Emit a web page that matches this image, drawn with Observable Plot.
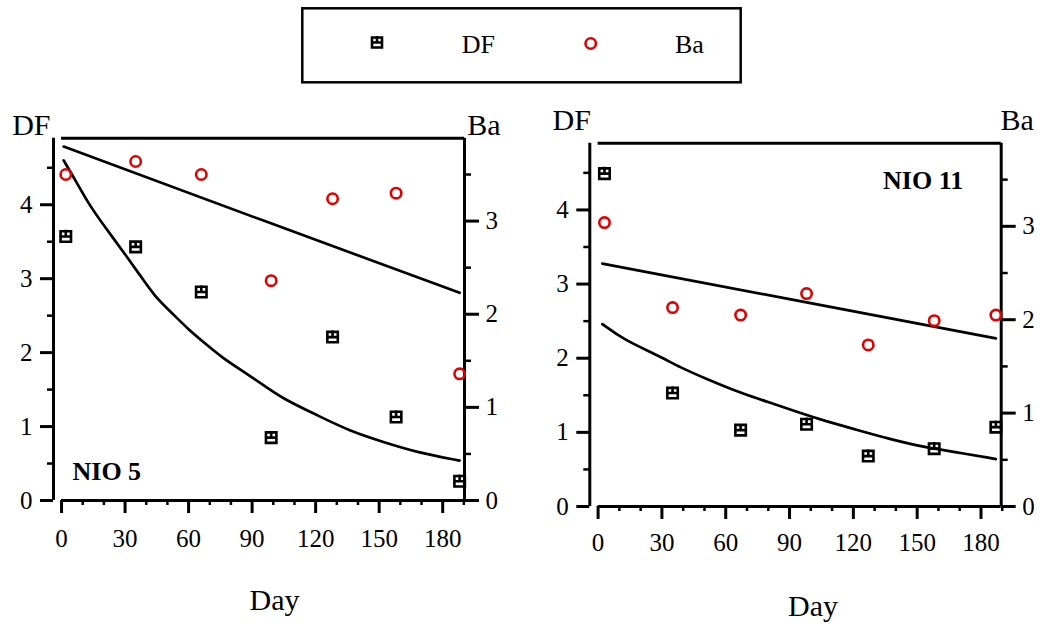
<!DOCTYPE html>
<html>
<head>
<meta charset="utf-8">
<script src="https://cdn.jsdelivr.net/npm/d3@7"></script>
<script src="https://cdn.jsdelivr.net/npm/@observablehq/plot@0.6"></script>
<style>
html, body { margin: 0; padding: 0; background: #fff; }
#wrap { position: relative; width: 1040px; height: 624px; overflow: hidden; background: #fff; }
#wrap > svg { position: absolute; top: 0; }
#wrap svg g[aria-label*="tick label"] { font-size: 25px !important; }
</style>
</head>
<body>
<div id="wrap"></div>
<script>
// ---------- data ----------
const panelNames = ["NIO 5", "NIO 11"];
const seriesNames = ["DF", "Ba"];

// NIO 5 measurements
const days5 = [2, 35, 66, 99, 128, 158, 188];
const df5   = [3.57, 3.43, 2.82, 0.85, 2.21, 1.13, 0.26];
const ba5   = [3.50, 3.64, 3.50, 2.36, 3.24, 3.30, 1.36];
// NIO 5 fitted curves
const fitDays5DF = [1, 7, 13, 21, 29, 37, 44, 52, 60, 68, 76, 84, 96, 105, 121, 136, 152, 168, 188];
const fitDF5     = [4.60, 4.31, 4.00, 3.68, 3.37, 3.05, 2.76, 2.54, 2.31, 2.12, 1.93, 1.78, 1.55, 1.37, 1.15, 0.94, 0.79, 0.65, 0.54];
const fitDays5Ba = [1, 96, 188];
const fitBa5     = [3.80, 3.00, 2.23];

// NIO 11 measurements
const days11 = [3, 35, 67, 98, 127, 158, 187];
const df11   = [4.49, 1.53, 1.03, 1.11, 0.68, 0.78, 1.07];
const ba11   = [3.04, 2.13, 2.05, 2.28, 1.73, 1.99, 2.05];
// NIO 11 fitted curves
const fitDays11DF = [2, 12, 28, 39, 51, 67, 83, 95, 106, 122, 137, 153, 169, 187];
const fitDF11     = [2.46, 2.25, 2.04, 1.87, 1.72, 1.53, 1.38, 1.26, 1.16, 1.03, 0.91, 0.80, 0.73, 0.64];
const fitDays11Ba = [2, 90, 187];
const fitBa11     = [2.60, 2.22, 1.80];

// axes
const dfMax = 4.9;
const baMax = 3.89;
const dfTicks = [0, 1, 2, 3, 4];
const dfMinor = [0.5, 1.5, 2.5, 3.5, 4.5];
const baTicks = [0, 1, 2, 3];
const baMinor = [0.5, 1.5, 2.5, 3.5];
const dayTicks = [0, 30, 60, 90, 120, 150, 180];
const dayMinor = [10, 20, 40, 50, 70, 80, 100, 110, 130, 140, 160, 170, 190];
const xLabel = "Day";

// ---------- drawing ----------
const FONT = '"Liberation Serif", "Times New Roman", serif';
const RED = "#e00000";
const k = dfMax / baMax; // Ba value -> DF-axis units

const boxPlus = {
  draw(ctx, size) {
    const s = Math.sqrt(size) / 2;
    ctx.moveTo(-s, -s); ctx.lineTo(s, -s); ctx.lineTo(s, s); ctx.lineTo(-s, s); ctx.closePath();
    ctx.moveTo(-s, 0); ctx.lineTo(s, 0);
    ctx.moveTo(0, -s - 1.5); ctx.lineTo(0, 0);
  }
};

function panel(cfg) {
  const pts = cfg.days.map((d, i) => ({day: d, df: cfg.df[i], ba: cfg.ba[i]}));
  const dfFit = cfg.fitDFDays.map((d, i) => ({day: d, v: cfg.fitDF[i]}));
  const baFit = cfg.fitBaDays.map((d, i) => ({day: d, v: cfg.fitBa[i]}));
  const [x0, x1] = cfg.xDomain;
  return Plot.plot({
    width: 520, height: 624,
    marginLeft: cfg.ml, marginRight: cfg.mr, marginTop: cfg.mt, marginBottom: cfg.mb,
    x: {domain: cfg.xDomain, axis: null, label: null},
    y: {domain: [0, dfMax], axis: null, label: null},
    style: {fontFamily: FONT, fontSize: "25px", background: "transparent", color: "black", overflow: "visible"},
    marks: [
      // frame lines
      Plot.ruleX([x0], {y1: 0, y2: dfMax, strokeWidth: 3}),
      Plot.ruleX([x1], {y1: 0, y2: dfMax, strokeWidth: 3}),
      Plot.ruleY([0], {x1: 0, x2: x1, strokeWidth: 3}),
      Plot.ruleY([dfMax], {x1: 0, x2: x1, strokeWidth: 3}),
      // x axis
      Plot.axisX({ticks: dayTicks, tickSize: 13, tickPadding: cfg.xPad, strokeWidth: 3, fontSize: 25, tickFormat: d => String(d), label: null}),
      Plot.axisX({ticks: dayMinor, tickSize: 5, strokeWidth: 2.5, fill: "none", label: null}),
      // left DF axis
      Plot.axisY({anchor: "left", ticks: dfTicks, tickSize: 13, tickPadding: 8, strokeWidth: 3, fontSize: 25, tickFormat: d => String(d), label: null}),
      Plot.axisY({anchor: "left", ticks: dfMinor, tickSize: 6, strokeWidth: 2.5, fill: "none", label: null}),
      // right Ba axis
      Plot.axisY({anchor: "right", ticks: baTicks.map(v => v * k), tickSize: 14, tickPadding: 7, strokeWidth: 3, fontSize: 25, tickFormat: d => String(Math.round(d / k)), label: null}),
      Plot.axisY({anchor: "right", ticks: baMinor.map(v => v * k), tickSize: 6, strokeWidth: 2.5, fill: "none", label: null}),
      // fitted curves
      Plot.line(baFit, {x: "day", y: d => d.v * k, stroke: "black", strokeWidth: 2.7, curve: "linear"}),
      Plot.line(dfFit, {x: "day", y: "v", stroke: "black", strokeWidth: 2.7, curve: "basis"}),
      // points
      Plot.dot(pts, {x: "day", y: d => d.ba * k, r: 5.2, stroke: RED, strokeWidth: 2.6, fill: "none"}),
      Plot.dot(pts, {x: "day", y: "df", r: 5.9, symbol: boxPlus, stroke: "black", strokeWidth: 2.6, fill: "none"}),
      // texts
      Plot.text([seriesNames[0]], {frameAnchor: "top-left", textAnchor: "start", lineAnchor: "bottom", dx: cfg.dfDx, dy: cfg.topDy, fontSize: 30}),
      Plot.text([seriesNames[1]], {frameAnchor: "top-right", textAnchor: "start", lineAnchor: "bottom", dx: cfg.baDx, dy: cfg.topDy, fontSize: 30}),
      Plot.text([xLabel], {frameAnchor: "bottom", textAnchor: "middle", lineAnchor: "bottom", dx: cfg.dayDx, dy: cfg.dayDy, fontSize: 30}),
      Plot.text([cfg.name], {frameAnchor: cfg.nameAnchor, textAnchor: cfg.nameTextAnchor, lineAnchor: "bottom", dx: cfg.nameDx, dy: cfg.nameDy, fontSize: 26, fontWeight: "bold"})
    ]
  });
}

const wrap = document.getElementById("wrap");

const p1 = panel({
  name: panelNames[0], days: days5, df: df5, ba: ba5,
  fitDFDays: fitDays5DF, fitDF: fitDF5, fitBaDays: fitDays5Ba, fitBa: fitBa5,
  ml: 53, mr: 56, mt: 137.7, mb: 124, xDomain: [-3.8, 190.3], xPad: 16,
  dfDx: -41.3, baDx: 2.7, topDy: -3.4, dayDx: 15.5, dayDy: 109,
  nameAnchor: "bottom-left", nameTextAnchor: "start", nameDx: 19, nameDy: -20.7
});
p1.style.left = "0px";
wrap.appendChild(p1);

const p2 = panel({
  name: panelNames[1], days: days11, df: df11, ba: ba11,
  fitDFDays: fitDays11DF, fitDF: fitDF11, fitBaDays: fitDays11Ba, fitBa: fitBa11,
  ml: 69.3, mr: 39.3, mt: 142.7, mb: 118, xDomain: [-3.9, 189.5], xPad: 14,
  dfDx: -37.3, baDx: -0.7, topDy: -13.4, dayDx: 17.5, dayDy: 109,
  nameAnchor: "top-right", nameTextAnchor: "end", nameDx: -38, nameDy: 45.6
});
p2.style.left = "520px";
wrap.appendChild(p2);

// legend
const ns = "http://www.w3.org/2000/svg";
const leg = document.createElementNS(ns, "svg");
leg.setAttribute("width", 1040);
leg.setAttribute("height", 100);
leg.style.left = "0px";
leg.style.fontFamily = FONT;
const rect = document.createElementNS(ns, "rect");
Object.entries({x: 302.3, y: 8.3, width: 438.4, height: 74, fill: "none", stroke: "black", "stroke-width": 2.5}).forEach(([a, v]) => rect.setAttribute(a, v));
leg.appendChild(rect);
const sq = document.createElementNS(ns, "path");
const pth = d3.path(); boxPlus.draw(pth, 100);
sq.setAttribute("d", pth.toString());
sq.setAttribute("transform", "translate(377,42.5)");
Object.entries({fill: "none", stroke: "black", "stroke-width": 2.6}).forEach(([a, v]) => sq.setAttribute(a, v));
leg.appendChild(sq);
const circ = document.createElementNS(ns, "circle");
Object.entries({cx: 590.7, cy: 43.5, r: 5.2, fill: "none", stroke: RED, "stroke-width": 2.6}).forEach(([a, v]) => circ.setAttribute(a, v));
leg.appendChild(circ);
[[seriesNames[0], 461.7], [seriesNames[1], 675]].forEach(([t, x]) => {
  const tx = document.createElementNS(ns, "text");
  tx.setAttribute("x", x); tx.setAttribute("y", 52.7);
  tx.setAttribute("font-size", 26);
  tx.textContent = t;
  leg.appendChild(tx);
});
wrap.appendChild(leg);
</script>
</body>
</html>
